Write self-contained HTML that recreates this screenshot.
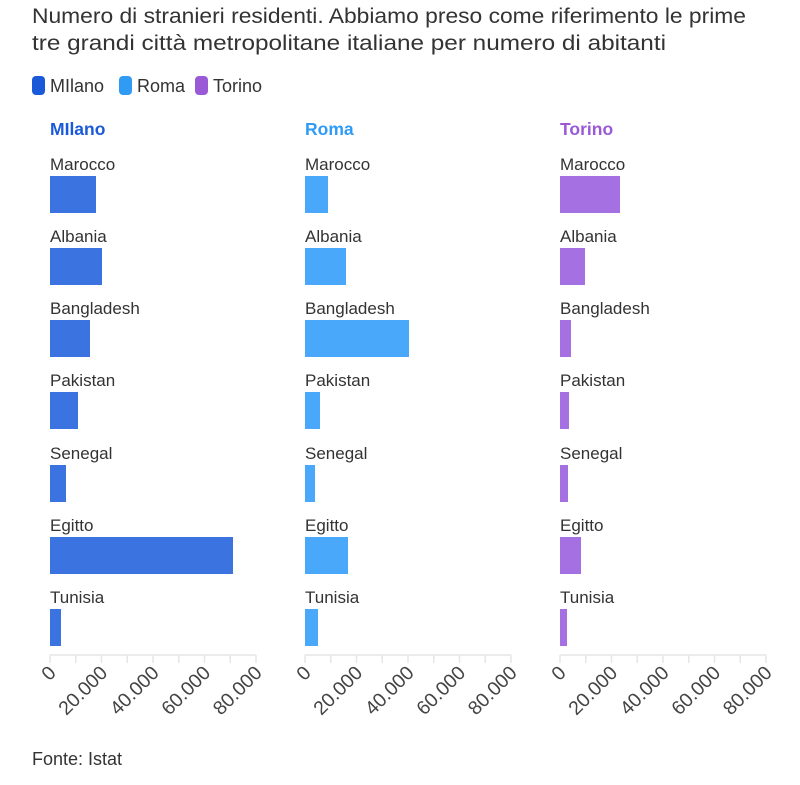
<!DOCTYPE html>
<html><head><meta charset="utf-8"><style>
body{margin:0;background:#fff;width:800px;height:780px;overflow:hidden;font-family:"Liberation Sans",sans-serif;}
</style></head><body>
<svg width="800" height="780" xmlns="http://www.w3.org/2000/svg" font-family="Liberation Sans, sans-serif">
<text x="32" y="23" font-size="21" fill="#333" textLength="714" lengthAdjust="spacingAndGlyphs">Numero di stranieri residenti. Abbiamo preso come riferimento le prime</text>
<text x="32" y="50" font-size="21" fill="#333" textLength="634" lengthAdjust="spacingAndGlyphs">tre grandi città metropolitane italiane per numero di abitanti</text>
<rect x="32" y="76" width="13" height="19" rx="4" fill="#1a5ad8"/><text x="50" y="92" font-size="18" fill="#333">MIlano</text>
<rect x="119" y="76" width="13" height="19" rx="4" fill="#2f9bf5"/><text x="137" y="92" font-size="18" fill="#333">Roma</text>
<rect x="195" y="76" width="13" height="19" rx="4" fill="#9a5ad8"/><text x="213" y="92" font-size="18" fill="#333">Torino</text>
<g id="panels"></g>
<text x="32" y="765" font-size="18" fill="#333">Fonte: Istat</text>
</svg>
<script>
var ns="http://www.w3.org/2000/svg",g=document.getElementById("panels");
function el(t,a,txt){var e=document.createElementNS(ns,t);for(var k in a)e.setAttribute(k,a[k]);if(txt!=null)e.textContent=txt;g.appendChild(e);return e;}
var names=["Marocco","Albania","Bangladesh","Pakistan","Senegal","Egitto","Tunisia"];
var ys=[176,248,320,392,465,537,609];
var P=[{x:50,t:"MIlano",tc:"#1a5ad8",c:"#3b73e0",e:[96,102,90,78,66,233,61]},
{x:305,t:"Roma",tc:"#2f9bf5",c:"#4aa8fa",e:[328,346,409,320,315,348,318]},
{x:560,t:"Torino",tc:"#9a5ad8",c:"#a570e2",e:[620,585,571,569,568,581,567]}];
P.forEach(function(p){
 el("text",{x:p.x,y:135,"font-size":17.5,"font-weight":"bold",fill:p.tc},p.t);
 names.forEach(function(n,i){
  el("text",{x:p.x,y:ys[i]-6,"font-size":17,fill:"#333"},n);
  el("rect",{x:p.x,y:ys[i],width:p.e[i]-p.x,height:37,fill:p.c});
 });
 el("line",{x1:p.x,x2:p.x+206,y1:655,y2:655,stroke:"#e6e6e6","stroke-width":1.5});
 for(var k=0;k<=8;k++){var tx=p.x+k*25.75;el("line",{x1:tx,x2:tx,y1:655,y2:663,stroke:"#e6e6e6","stroke-width":1.5});}
 ["0","20.000","40.000","60.000","80.000"].forEach(function(l,k){var tx=p.x+k*51.5+7,ty=674;
  el("text",{x:tx,y:ty,"font-size":19.5,fill:"#444","text-anchor":"end",transform:"rotate(-45 "+tx+" "+ty+")"},l);});
});
</script>
</body></html>
